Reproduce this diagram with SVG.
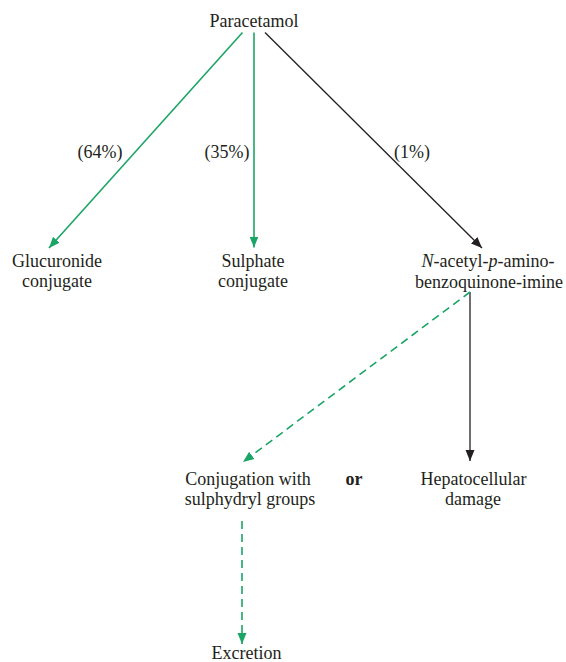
<svg xmlns="http://www.w3.org/2000/svg" width="566" height="662" viewBox="0 0 566 662" font-family="'Liberation Serif', 'Times New Roman', Times, 'DejaVu Serif', serif">
<style>
text{font-family:'Liberation Serif', 'Times New Roman', Times, 'DejaVu Serif', serif;font-size:18px;fill:#231f20;text-anchor:middle}
.g{stroke:#1aa566;stroke-width:1.6;fill:none}
.k{stroke:#231f20;stroke-width:1.3;fill:none}
.d{stroke-dasharray:8 5}
</style>
<defs>
<marker id="ag" markerUnits="userSpaceOnUse" markerWidth="12" markerHeight="10" refX="11" refY="5" orient="auto" viewBox="0 0 12 10"><path d="M0,0.5 L11,5 L0,9.5 z" fill="#1aa566"/></marker>
<marker id="ak" markerUnits="userSpaceOnUse" markerWidth="12" markerHeight="10" refX="11" refY="5" orient="auto" viewBox="0 0 12 10"><path d="M0,0.5 L11,5 L0,9.5 z" fill="#231f20"/></marker>
</defs>
<g id="connectors">
<line class="g" x1="242.5" y1="32.5" x2="49" y2="248" marker-end="url(#ag)"/>
<line class="g" x1="254" y1="32.5" x2="254" y2="247.5" marker-end="url(#ag)"/>
<line class="k" x1="265" y1="32.5" x2="482" y2="248" marker-end="url(#ak)"/>
<line class="k" x1="470" y1="292" x2="470" y2="461" marker-end="url(#ak)"/>
<line class="g d" x1="470" y1="292" x2="243" y2="462" marker-end="url(#ag)"/>
<line class="g d" x1="242" y1="521" x2="242" y2="644" marker-end="url(#ag)"/>
<text x="100" y="158">(64%)</text>
<text x="227" y="158">(35%)</text>
<text x="412" y="158">(1%)</text>
</g>
<g id="paracetamol"><text x="254" y="26.5">Paracetamol</text></g>
<g id="glucuronide"><text x="57" y="267">Glucuronide</text><text x="57" y="287">conjugate</text></g>
<g id="sulphate"><text x="253" y="267">Sulphate</text><text x="253" y="287">conjugate</text></g>
<g id="napqi"><text x="488" y="267"><tspan font-style="italic">N</tspan>-acetyl-<tspan font-style="italic">p</tspan>-amino-</text><text x="489" y="288">benzoquinone-imine</text></g>
<g id="conjugation"><text x="248" y="485">Conjugation with</text><text x="250" y="505">sulphydryl groups</text></g>
<g id="or"><text x="354" y="485" font-weight="bold">or</text></g>
<g id="hepatocellular"><text x="473.5" y="485">Hepatocellular</text><text x="473" y="505">damage</text></g>
<g id="excretion"><text x="246.5" y="659">Excretion</text></g>
</svg>
